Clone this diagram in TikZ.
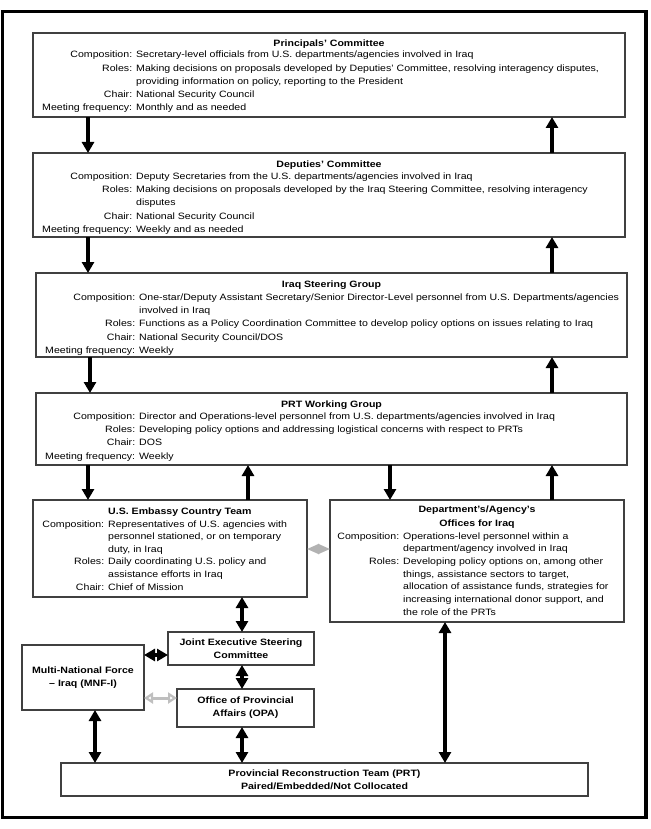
\documentclass[tikz,border=0pt]{standalone}
\usepackage{fontspec}
\setmainfont{Liberation Sans}[FakeStretch=1.15]
\usetikzlibrary{arrows.meta,calc}
\newcommand\lbl[1]{\llap{#1\hspace{4pt}}}
\begin{document}
\begin{tikzpicture}[x=1pt,y=-1pt,
  box/.style={draw=black!75, line width=1.1pt, fill=white, inner sep=0pt, outer sep=0pt, anchor=north west},
  cbox/.style={draw=black!75, line width=1.1pt, fill=white, inner sep=0pt, outer sep=0pt, align=center,
     font=\fontsize{9.2}{13}\selectfont\bfseries},
  txt/.style={inner sep=0pt, anchor=base west, font=\fontsize{9.2}{13.2}\selectfont},
  ttl/.style={inner sep=0pt, anchor=base, font=\fontsize{9.2}{13.2}\selectfont\bfseries},
  arr/.style={line width=3.6pt, -{Triangle[width=12pt,length=11pt]}},
  darr/.style={line width=3.6pt, {Triangle[width=12pt,length=11pt]}-{Triangle[width=12pt,length=11pt]}},
  garr/.style={line width=3pt, draw=black!25, {Triangle[width=11pt,length=9pt,line width=2.2pt,fill=white]}-{Triangle[width=11pt,length=9pt,line width=2.2pt,fill=white]}},
  gdia/.style={line width=2pt, draw=black!30, {Triangle[width=10pt,length=12pt,fill=black!30]}-{Triangle[width=10pt,length=12pt,fill=black!30]}}
]
\useasboundingbox (0,0) rectangle (650,829);
\draw[line width=3.5pt] (2.5,11.5) rectangle (646,817.5);

% Principals' Committee
\node[box, minimum width=592pt, minimum height=84pt] (pc) at (33,33) {};
\node[ttl] (pct) at (329,46.5) {Principals’ Committee};
\node[txt] (pcb) at (136,58) {\begin{tabular}[t]{@{}l@{}}
\lbl{Composition:}Secretary-level officials from U.S. departments/agencies involved in Iraq\\
\lbl{Roles:}Making decisions on proposals developed by Deputies’ Committee, resolving interagency disputes,\\
providing information on policy, reporting to the President\\
\lbl{Chair:}National Security Council\\
\lbl{Meeting frequency:}Monthly and as needed
\end{tabular}};

% Deputies' Committee
\node[box, minimum width=592pt, minimum height=84pt] (dc) at (33,153) {};
\node[ttl] (dct) at (329,167.5) {Deputies’ Committee};
\node[txt] (dcb) at (136,179.5) {\begin{tabular}[t]{@{}l@{}}
\lbl{Composition:}Deputy Secretaries from the U.S. departments/agencies involved in Iraq\\
\lbl{Roles:}Making decisions on proposals developed by the Iraq Steering Committee, resolving interagency\\
disputes\\
\lbl{Chair:}National Security Council\\
\lbl{Meeting frequency:}Weekly and as needed
\end{tabular}};

% Iraq Steering Group
\node[box, minimum width=591pt, minimum height=84pt] (isg) at (36,273) {};
\node[ttl] (isgt) at (331.5,287.5) {Iraq Steering Group};
\node[txt] (isgb) at (139,300.5) {\begin{tabular}[t]{@{}l@{}}
\lbl{Composition:}One-star/Deputy Assistant Secretary/Senior Director-Level personnel from U.S. Departments/agencies\\
involved in Iraq\\
\lbl{Roles:}Functions as a Policy Coordination Committee to develop policy options on issues relating to Iraq\\
\lbl{Chair:}National Security Council/DOS\\
\lbl{Meeting frequency:}Weekly
\end{tabular}};

% PRT Working Group
\node[box, minimum width=591pt, minimum height=72pt] (prt) at (36,393) {};
\node[ttl] (prtt) at (331.5,407.5) {PRT Working Group};
\node[txt] (prtb) at (139,419.5) {\begin{tabular}[t]{@{}l@{}}
\lbl{Composition:}Director and Operations-level personnel from U.S. departments/agencies involved in Iraq\\
\lbl{Roles:}Developing policy options and addressing logistical concerns with respect to PRTs\\
\lbl{Chair:}DOS\\
\lbl{Meeting frequency:}Weekly
\end{tabular}};

% U.S. Embassy Country Team
\node[box, minimum width=274pt, minimum height=97pt] (emb) at (33,500) {};
\node[ttl, anchor=base west] (embt) at (108,514.5) {U.S. Embassy Country Team};
\node[txt, font=\fontsize{9.2}{12.6}\selectfont] (embb) at (108,527) {\begin{tabular}[t]{@{}l@{}}
\lbl{Composition:}Representatives of U.S. agencies with\\
personnel stationed, or on temporary\\
duty, in Iraq\\
\lbl{Roles:}Daily coordinating U.S. policy and\\
assistance efforts in Iraq\\
\lbl{Chair:}Chief of Mission
\end{tabular}};

% Department's/Agency's Offices for Iraq
\node[box, minimum width=294pt, minimum height=122pt] (dept) at (330,500) {};
\node[ttl, font=\fontsize{9.2}{14}\selectfont\bfseries] (deptt) at (477,512) {\begin{tabular}[t]{@{}c@{}}
Department’s/Agency’s\\ Offices for Iraq\end{tabular}};
\node[txt, font=\fontsize{9.2}{12.7}\selectfont] (deptb) at (403,539) {\begin{tabular}[t]{@{}l@{}}
\lbl{Composition:}Operations-level personnel within a\\
department/agency involved in Iraq\\
\lbl{Roles:}Developing policy options on, among other\\
things, assistance sectors to target,\\
allocation of assistance funds, strategies for\\
increasing international donor support, and\\
the role of the PRTs
\end{tabular}};

% lower boxes
\node[cbox, minimum width=146pt, minimum height=33pt] (jesc) at (241,648.5) {Joint Executive Steering\\Committee};
\node[cbox, minimum width=122pt, minimum height=65pt] (mnf) at (83,677.5) {Multi-National Force\\– Iraq (MNF-I)};
\node[cbox, minimum width=137pt, minimum height=38pt] (opa) at (245.5,708) {Office of Provincial\\Affairs (OPA)};
\node[cbox, minimum width=527pt, minimum height=33pt] (prtb2) at (324.5,779.5) {Provincial Reconstruction Team (PRT)\\Paired/Embedded/Not Collocated};

% connectors
\draw[arr] ([xshift=55pt]pc.south west) -- ([xshift=55pt]pc.south west |- dc.north);
\draw[arr] ([xshift=519pt]dc.north west) -- ([xshift=519pt]dc.north west |- pc.south);
\draw[arr] ([xshift=55pt]dc.south west) -- ([xshift=55pt]dc.south west |- isg.north);
\draw[arr] ([xshift=516pt]isg.north west) -- ([xshift=516pt]isg.north west |- dc.south);
\draw[arr] ([xshift=54pt]isg.south west) -- ([xshift=54pt]isg.south west |- prt.north);
\draw[arr] ([xshift=516pt]prt.north west) -- ([xshift=516pt]prt.north west |- isg.south);
\draw[arr] ([xshift=52pt]prt.south west) -- ([xshift=52pt]prt.south west |- emb.north);
\draw[arr] ([xshift=215pt]emb.north west) -- ([xshift=215pt]emb.north west |- prt.south);
\draw[arr] ([xshift=354pt]prt.south west) -- ([xshift=354pt]prt.south west |- dept.north);
\draw[arr] ([xshift=222pt]dept.north west) -- ([xshift=222pt]dept.north west |- prt.south);
\draw[gdia] ([yshift=-49pt]emb.north east) -- ([yshift=-49pt]dept.north west);
\draw[darr] ([xshift=209pt]emb.south west) -- ([xshift=209pt]emb.south west |- jesc.north);
\draw[darr] ([yshift=-6.5pt]jesc.west) -- ([yshift=-6.5pt]jesc.west -| mnf.east);
\draw[darr] ([xshift=1pt]jesc.south) -- ([xshift=1pt]jesc.south |- opa.north);
\draw[garr] ([yshift=10pt]opa.west) -- ([yshift=10pt]opa.west -| mnf.east);
\draw[darr] ([xshift=-3.5pt]opa.south) -- ([xshift=-3.5pt]opa.south |- prtb2.north);
\draw[darr] ([xshift=12pt]mnf.south) -- ([xshift=12pt]mnf.south |- prtb2.north);
\draw[darr] ([xshift=-32pt]dept.south) -- ([xshift=-32pt]dept.south |- prtb2.north);
\end{tikzpicture}
\end{document}
